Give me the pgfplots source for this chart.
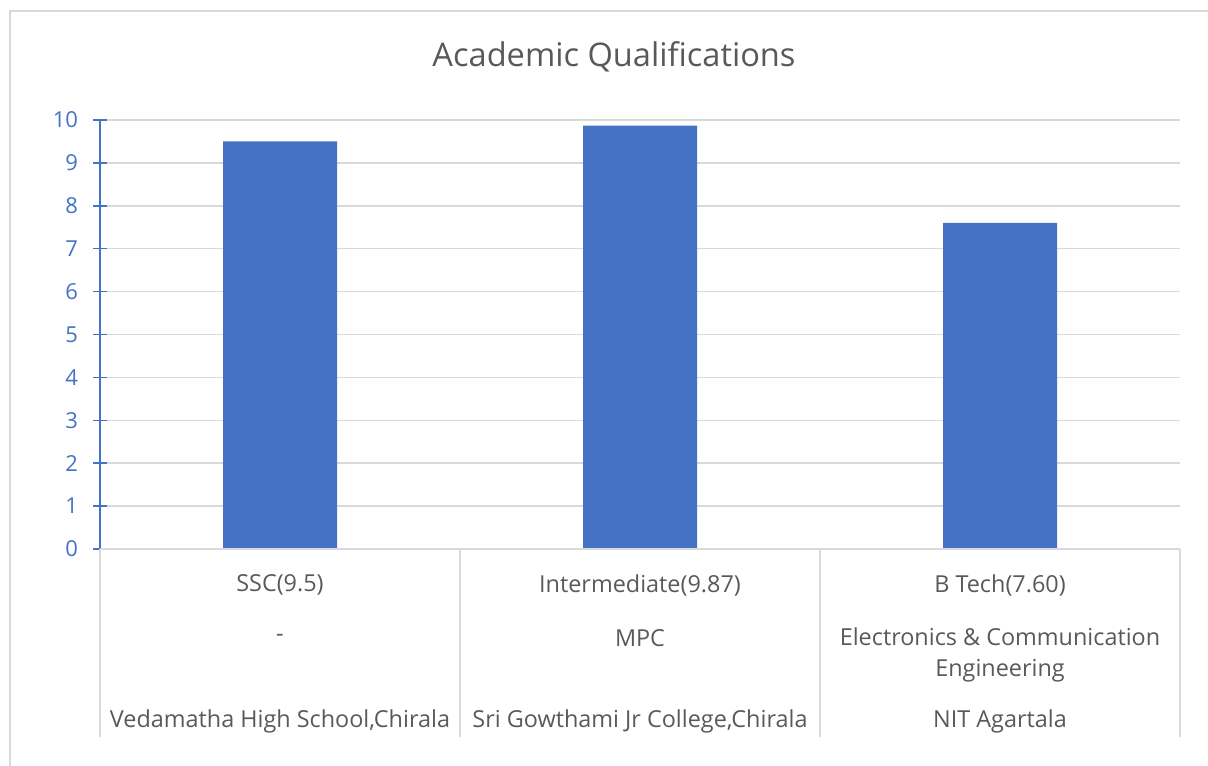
\documentclass[border=0pt]{standalone}
\usepackage{fontspec}
\setmainfont{Open Sans}
\usepackage{pgfplots}
\pgfplotsset{compat=1.18}
\definecolor{barblue}{HTML}{4472C4}
\definecolor{gridgray}{HTML}{D9D9D9}
\definecolor{txtgray}{HTML}{595959}
\begin{document}
\begin{tikzpicture}
\useasboundingbox (0,0) rectangle (604pt,-382.5pt);
\draw[gridgray, line width=1pt] (5pt,-420pt) -- (5pt,-5.5pt) -- (640pt,-5.5pt);
\node[txtgray, font=\fontsize{16.3}{19}\selectfont] at (307pt,-28.5pt) {Academic Qualifications};
\begin{axis}[
  at={(50pt,-274.5pt)}, anchor=origin,
  scale only axis, width=540pt, height=214.5pt,
  xmin=0, xmax=3, ymin=0, ymax=10,
  ytick={0,1,...,10},
  xtick=\empty,
  ytick pos=left,
  axis line style={draw=none},
  ymajorgrids, grid style={gridgray, line width=0.75pt},
  tick align=center, major tick length=7pt,
  ytick style={barblue, line width=0.75pt},
  yticklabel style={barblue, font=\fontsize{11}{13}\selectfont, xshift=-4pt},
  /pgf/number format/assume math mode=true,
  clip=false,
]
\addplot[ybar, bar width=57pt, fill=barblue, draw=none] coordinates {(0.5,9.5) (1.5,9.87) (2.5,7.6)};
\draw[barblue, line width=0.75pt] (axis cs:0,0) -- (axis cs:0,10);
\draw[gridgray, line width=0.75pt] (axis cs:0,0) -- (axis cs:3,0);
\draw[gridgray, line width=0.75pt] (axis cs:0,0) -- ++(0,-94pt);
\draw[gridgray, line width=0.75pt] (axis cs:1,0) -- ++(0,-94pt);
\draw[gridgray, line width=0.75pt] (axis cs:2,0) -- ++(0,-94pt);
\draw[gridgray, line width=0.75pt] (axis cs:3,0) -- ++(0,-94pt);
\end{axis}
\begin{scope}[every node/.style={txtgray, font=\fontsize{11.7}{15.5}\selectfont, align=center}]
\node at (140pt,-292.5pt) {SSC(9.5)};
\node at (320pt,-292.5pt) {Intermediate(9.87)};
\node at (500pt,-292.5pt) {B Tech(7.60)};
\node at (140pt,-319pt) {-};
\node at (320pt,-319pt) {MPC};
\node at (500pt,-327.25pt) {Electronics \& Communication\\Engineering};
\node at (140pt,-360.5pt) {Vedamatha High School,Chirala};
\node at (320pt,-360.5pt) {Sri Gowthami Jr College,Chirala};
\node at (500pt,-360.5pt) {NIT Agartala};
\end{scope}
\end{tikzpicture}
\end{document}
